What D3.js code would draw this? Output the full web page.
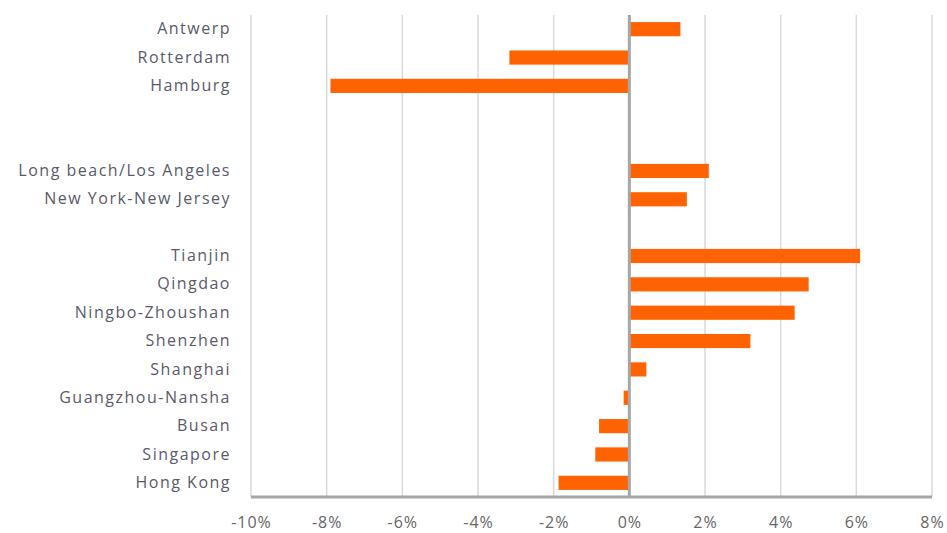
<!DOCTYPE html>
<html><head><meta charset="utf-8">
<script src="https://cdn.jsdelivr.net/npm/d3@7"></script>
<style>body{margin:0;background:#fff}svg{display:block}</style>
</head><body>
<svg id="c" width="947" height="533"></svg>
<script>
const categories = ["Antwerp","Rotterdam","Hamburg","_gap1","_gap2","Long beach/Los Angeles","New York-New Jersey","_gap3","Tianjin","Qingdao","Ningbo-Zhoushan","Shenzhen","Shanghai","Guangzhou-Nansha","Busan","Singapore","Hong Kong"];
const values = [1.35,-3.17,-7.9,null,null,2.1,1.52,null,6.1,4.74,4.37,3.2,0.45,-0.15,-0.8,-0.9,-1.87];
const xTicks = [-10,-8,-6,-4,-2,0,2,4,6,8];

const svg = d3.select("#c");
const m = {left:251, right:932, top:15, bottom:497};
const x = d3.scaleLinear().domain([-10,8]).range([m.left, m.right]);
const y = d3.scaleBand().domain(categories).range([m.top, m.bottom]).paddingInner(0.5).paddingOuter(0.25);
const font = "'Open Sans', sans-serif";

// gridlines
svg.append("g").selectAll("line").data(xTicks.filter(d=>d!==0)).join("line")
  .attr("x1",d=>x(d)).attr("x2",d=>x(d)).attr("y1",m.top).attr("y2",m.bottom)
  .attr("stroke","#d9d9d9").attr("stroke-width",1.5);

const data = categories.map((c,i)=>({c, v:values[i]})).filter(d=>d.v!==null);
svg.append("g").selectAll("rect").data(data).join("rect")
  .attr("x",d=>Math.min(x(0),x(d.v))).attr("width",d=>Math.abs(x(d.v)-x(0)))
  .attr("y",d=>y(d.c)).attr("height",y.bandwidth())
  .attr("fill","#ff6200");

// zero line
svg.append("line").attr("x1",x(0)).attr("x2",x(0)).attr("y1",m.top).attr("y2",m.bottom)
  .attr("stroke","#a6a6a6").attr("stroke-width",3);
// bottom axis line
svg.append("line").attr("x1",m.left).attr("x2",m.right).attr("y1",m.bottom).attr("y2",m.bottom)
  .attr("stroke","#a6a6a6").attr("stroke-width",3);

// x axis labels
const xa = d3.axisBottom(x).tickValues(xTicks).tickFormat(d=>d+"%").tickSize(0).tickPadding(0);
const gx = svg.append("g").attr("transform",`translate(0,${m.bottom})`).call(xa);
gx.select(".domain").remove();
gx.selectAll("text").attr("dy",null).attr("y",31).attr("font-family",font).attr("font-size",16)
  .attr("letter-spacing",1).attr("fill","#666");

// y axis labels
const ya = d3.axisLeft(y).tickSize(0).tickPadding(0).tickFormat(d=>d.startsWith("_")?"":d);
const gy = svg.append("g").attr("transform",`translate(${m.left-20},0)`).call(ya);
gy.select(".domain").remove();
gy.selectAll("text").attr("font-family",font).attr("font-size",16).attr("letter-spacing",1.5)
  .attr("fill","#5a5a6a");
</script>
</body></html>
